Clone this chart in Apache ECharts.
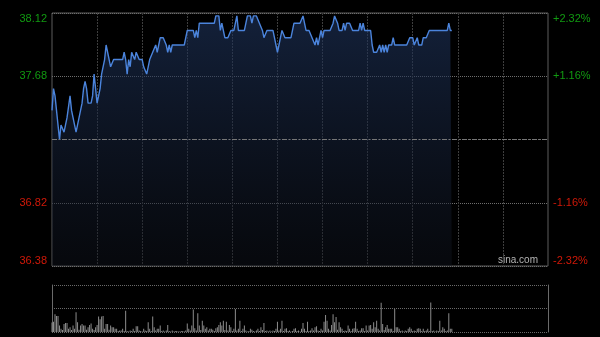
<!DOCTYPE html>
<html><head><meta charset="utf-8">
<script src="https://cdn.jsdelivr.net/npm/echarts@6/dist/echarts.min.js"></script>
<style>html,body{margin:0;padding:0;background:#000;}#c{width:600px;height:337px;}</style>
</head><body><div id="c"></div>
<script>
const prevClose = 37.25;
const priceMin = 36.38, priceMax = 38.12;
const pctMax = 2.32, pctStep = 1.16;
const leftTickLabels = ['36.38', '36.82', '', '37.68', '38.12'];
const rightTickLabels = ['-2.32%', '-1.16%', '', '+1.16%', '+2.32%'];
const volMax = 100, volStep = 50;

const prices = [
37.45,37.60,37.55,37.45,37.35,37.25,37.35,37.35,37.30,37.35,
37.40,37.40,37.55,37.45,37.45,37.35,37.30,37.35,37.40,37.40,
37.50,37.60,37.65,37.60,37.50,37.50,37.50,37.55,37.70,37.60,
37.50,37.55,37.60,37.70,37.70,37.80,37.90,37.85,37.85,37.75,
37.75,37.80,37.80,37.80,37.80,37.80,37.80,37.80,37.85,37.80,
37.70,37.80,37.75,37.85,37.85,37.80,37.85,37.85,37.80,37.80,
37.80,37.75,37.75,37.70,37.75,37.80,37.80,37.85,37.85,37.90,
37.85,37.90,37.95,37.95,37.95,37.95,37.90,37.85,37.90,37.85,
37.90,37.90,37.90,37.90,37.90,37.90,37.90,37.90,37.90,37.95,
38.00,38.00,38.00,38.00,38.00,37.95,38.00,37.95,38.05,38.05,
38.05,38.05,38.05,38.05,38.05,38.05,38.05,38.05,38.05,38.10,
38.10,38.10,38.00,38.05,38.00,37.95,37.95,37.95,37.95,38.00,
38.00,38.00,38.00,38.10,38.00,38.00,38.00,38.00,38.00,38.05,
38.10,38.10,38.10,38.05,38.10,38.10,38.10,38.10,38.05,38.05,
38.00,37.95,37.95,38.00,38.00,38.00,38.00,38.00,37.95,37.90,
37.85,37.90,37.95,38.00,38.00,37.95,37.95,37.95,37.95,37.95,
38.00,38.05,38.05,38.05,38.05,38.05,38.05,38.10,38.05,38.00,
38.00,38.00,38.00,37.95,37.95,37.90,37.95,37.90,37.90,38.00,
37.95,38.00,38.00,38.00,38.00,38.00,38.00,38.05,38.10,38.10,
38.05,38.00,38.00,38.00,38.05,38.00,38.05,38.05,38.05,38.05,
38.00,38.00,38.00,38.00,38.00,38.05,38.00,38.05,38.00,38.00,
38.00,38.00,38.00,37.90,37.85,37.85,37.85,37.85,37.90,37.85,
37.90,37.85,37.90,37.85,37.90,37.90,37.90,37.95,37.90,37.90,
37.90,37.90,37.90,37.90,37.90,37.90,37.90,37.90,37.95,37.95,
37.95,37.90,37.90,37.95,37.90,37.90,37.90,37.95,37.95,37.95,
37.95,38.00,38.00,38.00,38.00,38.00,38.00,38.00,38.00,38.00,
38.00,38.00,38.00,38.00,38.05,38.00,38.00
];

const volumes = [
20,22,38,34,34,14,7,4,17,19,
19,7,10,4,14,7,42,21,5,14,
17,14,14,5,10,15,18,7,4,10,
15,33,27,33,34,7,17,17,5,14,
10,10,7,7,2,3,3,7,2,45,
2,1,3,2,7,2,12,12,3,2,
1,7,3,2,21,7,2,33,10,3,
7,7,14,2,3,1,3,15,2,1,
3,1,2,2,1,1,2,2,1,3,
18,7,3,14,48,8,3,40,14,4,
24,14,7,10,3,7,7,5,2,8,
10,15,21,14,24,4,22,3,15,10,
2,7,49,3,7,24,2,7,14,3,
1,2,7,5,2,1,3,7,2,10,
4,19,2,3,1,3,1,3,2,7,
22,3,7,24,2,7,8,2,3,1,
2,7,8,2,3,1,7,19,7,2,
22,2,3,8,3,10,12,3,2,7,
3,22,36,24,7,3,15,38,21,32,
5,21,10,7,2,3,2,14,7,2,
7,8,22,7,2,3,8,8,2,14,
3,14,15,7,21,10,24,7,3,62,
17,4,10,15,7,7,7,2,49,10,
10,7,2,3,1,3,2,7,10,7,
2,3,2,7,8,7,2,7,2,3,
7,2,63,2,3,1,3,2,24,3,
10,7,2,3,40,7,7
];

// Trading minutes (HK session): 09:30-12:00, 13:01-16:00
const times = [];
function pad(n) { return (n < 10 ? '0' : '') + n; }
for (let m = 9 * 60 + 30; m <= 12 * 60; m++) times.push(pad(Math.floor(m / 60)) + ':' + pad(m % 60));
for (let m = 13 * 60 + 1; m <= 16 * 60; m++) times.push(pad(Math.floor(m / 60)) + ':' + pad(m % 60));

function tickIndex(v) { return Math.round(v / pctStep) + 2; }
function labelColor(v) { return v > 0 ? '#119a11' : '#d01808'; }

const chart = echarts.init(document.getElementById('c'), null, { renderer: 'canvas' });
chart.setOption({
  backgroundColor: '#000',
  animation: false,
  grid: [
    { left: 52, right: 52, top: 13, height: 253, show: true, borderColor: '#5c5c5c', borderWidth: 1 },
    { left: 52, right: 52, top: 285, height: 47 }
  ],
  xAxis: [
    { type: 'category', gridIndex: 0, data: times, boundaryGap: false,
      axisLine: { show: false }, axisTick: { show: false }, axisLabel: { show: false },
      splitLine: { show: true, interval: function (i) { return i % 30 === 0 && i > 0 && i < times.length - 1; },
        lineStyle: { color: '#3e3e3e', type: [2, 1], width: 1 } } },
    { type: 'category', gridIndex: 1, data: times, boundaryGap: false,
      axisLine: { show: false }, axisTick: { show: false }, axisLabel: { show: false }, splitLine: { show: false } }
  ],
  yAxis: [
    { type: 'value', gridIndex: 0, min: priceMin, max: priceMax, show: false, splitLine: { show: false } },
    { type: 'value', gridIndex: 0, position: 'left', min: -pctMax, max: pctMax, interval: pctStep,
      axisLine: { show: false }, axisTick: { show: false },
      splitLine: { show: true, lineStyle: { color: '#6e6e6e', type: [1, 1], width: 1 } },
      axisLabel: { margin: 5, fontSize: 11, fontFamily: 'Liberation Sans, Arial, sans-serif',
        color: labelColor, formatter: function (v) { return leftTickLabels[tickIndex(v)]; },
        verticalAlignMinLabel: 'bottom', verticalAlignMaxLabel: 'top' } },
    { type: 'value', gridIndex: 0, position: 'right', min: -pctMax, max: pctMax, interval: pctStep,
      axisLine: { show: false }, axisTick: { show: false }, splitLine: { show: false },
      axisLabel: { margin: 5, fontSize: 11, fontFamily: 'Liberation Sans, Arial, sans-serif',
        color: labelColor, formatter: function (v) { return rightTickLabels[tickIndex(v)]; },
        verticalAlignMinLabel: 'bottom', verticalAlignMaxLabel: 'top' } },
    { type: 'value', gridIndex: 1, position: 'left', min: 0, max: volMax, interval: volStep,
      axisLine: { show: true, lineStyle: { color: '#6a6a6a' } }, axisTick: { show: false }, axisLabel: { show: false },
      splitLine: { show: true, lineStyle: { color: '#6a6a6a', type: [1, 1] } } },
    { type: 'value', gridIndex: 1, position: 'right', min: 0, max: volMax, interval: volStep,
      axisLine: { show: true, lineStyle: { color: '#6a6a6a' } }, axisTick: { show: false }, axisLabel: { show: false },
      splitLine: { show: false } }
  ],
  series: [
    { type: 'line', xAxisIndex: 0, yAxisIndex: 0, data: prices, symbol: 'none', smooth: false,
      lineStyle: { color: '#4b84dc', width: 1.4 },
      areaStyle: { origin: 'start', color: new echarts.graphic.LinearGradient(0, 0, 0, 1, [
        { offset: 0, color: 'rgba(32,54,96,0.85)' },
        { offset: 1, color: 'rgba(16,20,30,0.6)' }
      ]) },
      markLine: { silent: true, symbol: 'none', label: { show: false },
        lineStyle: { color: '#777', type: [5, 2, 1, 2], width: 1 },
        data: [{ yAxis: prevClose }] } },
    { type: 'bar', xAxisIndex: 1, yAxisIndex: 3, data: volumes, barWidth: 1,
      itemStyle: { color: '#8c8c8c' } }
  ],
  graphic: [
    { type: 'text', left: 498, top: 255, style: { text: 'sina.com', fill: '#b4b4b4', font: '10px Liberation Sans, Arial, sans-serif' } }
  ]
});
</script>
</body></html>
